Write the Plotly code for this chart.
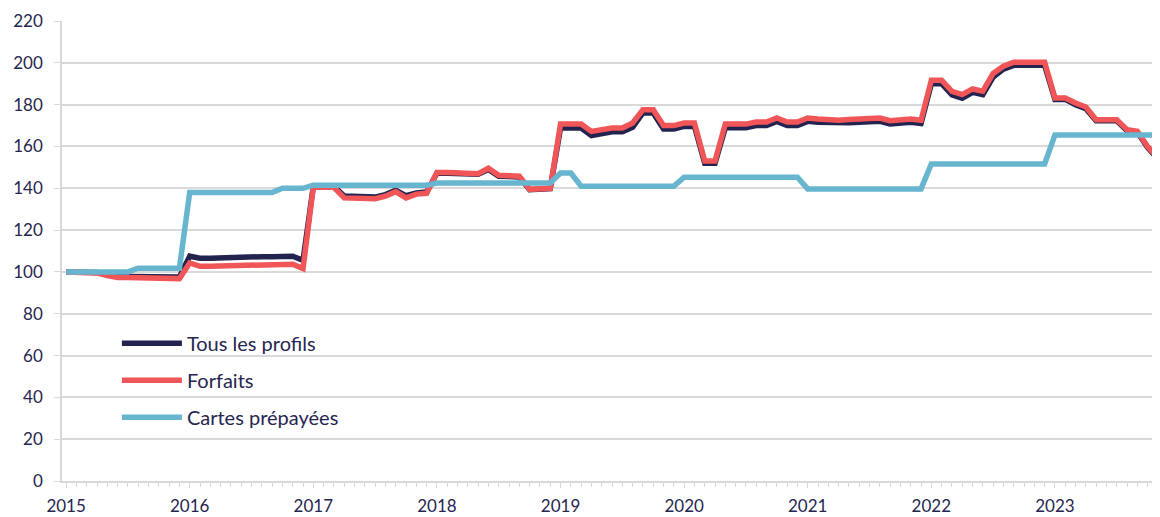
import plotly.graph_objects as go

# Monthly index, Jan 2015 .. Nov 2023 (107 months)
years = ["2015", "2016", "2017", "2018", "2019", "2020", "2021", "2022", "2023"]

tous_les_profils = [
    # 2015
    100, 100, 100, 99.7, 98.6, 97.8, 97.8, 97.8, 98.0, 97.8, 97.6, 97.6,
    # 2016
    107.5, 106.5, 106.5, 106.7, 107.0, 107.5, 107.5, 107.3, 107.3, 107.5, 107.5, 105.5,
    # 2017
    141.0, 141.0, 141.0, 136.3, 136.0, 135.8, 135.8, 137.0, 139.0, 136.5, 137.8, 138.2,
    # 2018
    147.2, 147.2, 147.0, 147.0, 146.7, 149.0, 145.7, 145.6, 145.4, 139.3, 139.5, 139.8,
    # 2019
    168.8, 168.8, 168.8, 165.2, 166.2, 167.0, 167.0, 169.2, 176.0, 176.0, 168.3, 168.3,
    # 2020
    169.6, 169.6, 152.0, 152.0, 169.0, 168.7, 169.0, 170.0, 170.0, 172.0, 170.0, 170.0,
    # 2021
    172.0, 171.6, 171.3, 171.0, 171.3, 171.6, 172.0, 172.0, 170.8, 171.3, 171.6, 171.0,
    # 2022
    190.0, 190.0, 184.7, 183.0, 185.9, 184.8, 193.2, 197.0, 198.8, 198.8, 198.8, 198.8,
    # 2023
    182.5, 182.5, 180.0, 178.0, 172.3, 172.3, 172.3, 167.5, 166.8, 159.5, 154.0,
]

forfaits = [
    # 2015
    100, 100, 100, 99.5, 98.2, 97.3, 97.3, 97.3, 97.3, 97.0, 96.8, 96.8,
    # 2016
    104.3, 102.7, 102.7, 102.8, 103.0, 103.5, 103.7, 103.7, 103.7, 103.7, 103.7, 101.6,
    # 2017
    140.5, 140.5, 140.5, 135.4, 135.3, 135.0, 135.0, 136.2, 138.4, 135.4, 137.2, 137.6,
    # 2018
    147.5, 147.5, 147.3, 147.2, 147.0, 149.6, 146.2, 146.0, 145.8, 139.5, 139.8, 140.0,
    # 2019
    170.7, 170.7, 170.7, 167.2, 168.0, 168.8, 168.8, 171.2, 177.6, 177.6, 170.0, 170.0,
    # 2020
    171.2, 171.2, 153.1, 153.1, 170.7, 170.4, 170.7, 171.7, 171.7, 173.6, 171.7, 171.7,
    # 2021
    173.6, 173.1, 172.8, 172.5, 172.9, 173.1, 173.6, 173.6, 172.3, 172.8, 173.1, 172.5,
    # 2022
    191.7, 191.7, 186.4, 184.8, 187.5, 186.4, 194.9, 198.4, 200.3, 200.3, 200.3, 200.3,
    # 2023
    183.2, 183.2, 180.8, 178.9, 172.8, 172.8, 172.8, 168.0, 167.2, 160.0, 154.4,
]

cartes_prepayees = [
    # 2015
    100, 100, 100, 100, 100, 100, 100, 101.8, 101.8, 101.8, 101.8, 101.8,
    # 2016
    138, 138, 138, 138, 138, 138, 138, 138, 138, 140, 140, 140,
    # 2017
    141.5, 141.5, 141.5, 141.5, 141.5, 141.5, 141.5, 141.5, 141.5, 141.5, 141.5, 141.5,
    # 2018
    142.5, 142.5, 142.5, 142.5, 142.5, 142.5, 142.5, 142.5, 142.5, 142.5, 142.5, 142.5,
    # 2019
    147.3, 147.3, 141.0, 141.0, 141.0, 141.0, 141.0, 141.0, 141.0, 141.0, 141.0, 141.0,
    # 2020
    145.3, 145.3, 145.3, 145.3, 145.3, 145.3, 145.3, 145.3, 145.3, 145.3, 145.3, 145.3,
    # 2021
    139.7, 139.7, 139.7, 139.7, 139.7, 139.7, 139.7, 139.7, 139.7, 139.7, 139.7, 139.7,
    # 2022
    151.6, 151.6, 151.6, 151.6, 151.6, 151.6, 151.6, 151.6, 151.6, 151.6, 151.6, 151.6,
    # 2023
    165.5, 165.5, 165.5, 165.5, 165.5, 165.5, 165.5, 165.5, 165.5, 165.5, 165.5,
]

months = list(range(len(forfaits)))
year_ticks = [12 * i for i in range(len(years))]

TEXT = "#262650"
GRID = "#d9d9d9"
FONT = "Lato"

fig = go.Figure()
series = [
    ("Tous les profils", tous_les_profils, "#23234f"),
    ("Forfaits", forfaits, "#f05558"),
    ("Cartes prépayées", cartes_prepayees, "#67b5cf"),
]
for i, (name, vals, col) in enumerate(series):
    fig.add_trace(go.Scatter(
        x=months[:len(vals)], y=vals, mode="lines", name=name,
        line=dict(color=col, width=5.5), legendgroup=f"g{i}",
    ))

# page body has an 8px margin: the figure is sized/offset to compensate
fig.update_layout(
    width=1152, height=509,
    margin=dict(l=54, r=0, t=13, b=36, autoexpand=False),
    paper_bgcolor="white", plot_bgcolor="white",
    font=dict(family=FONT, size=17, color=TEXT),
    showlegend=True,
    legend=dict(
        x=0.050, y=0.342, xanchor="left", yanchor="top",
        bgcolor="rgba(0,0,0,0)", tracegroupgap=8,
        itemwidth=60, font=dict(size=20, color=TEXT),
    ),
)
fig.update_xaxes(
    range=[-0.4, 106.2], tickmode="array", tickvals=year_ticks, ticktext=years,
    showgrid=False, showline=True, linecolor=GRID, linewidth=1.5,
    ticks="outside", ticklen=5, tickcolor=GRID,
    minor=dict(dtick=1, ticks="outside", ticklen=4, tickcolor=GRID, showgrid=False),
    zeroline=False, tickfont=dict(size=17, color=TEXT),
    ticklabelstandoff=4, automargin=False,
)
fig.update_yaxes(
    range=[0, 220], dtick=20, tick0=0,
    showgrid=True, gridcolor=GRID, gridwidth=1.5,
    showline=True, linecolor=GRID, linewidth=1.5,
    ticks="outside", ticklen=6, tickcolor=GRID,
    zeroline=False, tickfont=dict(size=17, color=TEXT),
    ticklabelstandoff=8, automargin=False,
)

fig.write_html("out.html")
